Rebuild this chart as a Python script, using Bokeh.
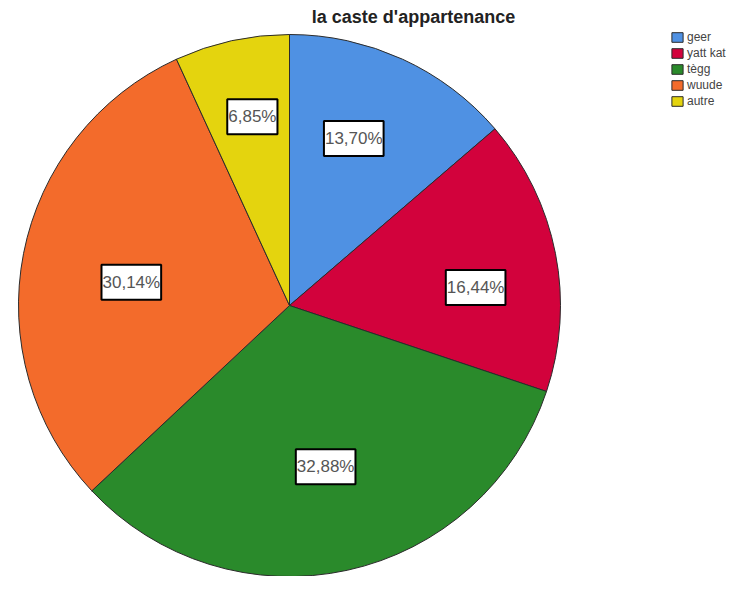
import math
from bokeh.plotting import figure
from bokeh.models import Range1d, ColumnDataSource, Legend, LegendItem
from bokeh.core.properties import value
from bokeh.embed import file_html
from bokeh.resources import INLINE

# ---- data ----
title_text = "la caste d'appartenance"
categories = ["geer", "yatt kat", "tègg", "wuude", "autre"]
percents = [13.70, 16.44, 32.88, 30.14, 6.85]
colors = ["#4f91e3", "#d2023c", "#2a8a2b", "#f36b2b", "#e4d40e"]

# ---- layout / style ----
W, H = 731, 576
CX, CY, R = 289, 271, 271          # pie centre and radius (plot px units)
label_frac = [0.66, 0.69, 0.61, 0.59, 0.71]   # radial placement of value labels
label_turn = [-3.6, 5.6, -0.3, -2.7, 1.2]     # small angular nudges (degrees, clockwise)

total = sum(percents)
starts, ends, lx, ly, labels = [], [], [], [], []
cum = 0.0
for i, v in enumerate(percents):
    a0 = math.pi / 2 - 2 * math.pi * cum / total
    a1 = math.pi / 2 - 2 * math.pi * (cum + v) / total
    starts.append(a0)
    ends.append(a1)
    mid = (a0 + a1) / 2 - math.radians(label_turn[i])
    lx.append(CX + label_frac[i] * R * math.cos(mid))
    ly.append(CY + label_frac[i] * R * math.sin(mid))
    labels.append(f"{v:.2f}".replace(".", ",") + "%")
    cum += v

src = ColumnDataSource(dict(cat=categories, start=starts, end=ends, color=colors,
                            lx=lx, ly=ly, lab=labels,
                            x=[CX] * len(categories), y=[CY] * len(categories)))

p = figure(width=W, height=H, output_backend="svg", toolbar_location=None,
           x_range=Range1d(0, W), y_range=Range1d(0, H), min_border=0)
p.axis.visible = False
p.grid.visible = False
p.outline_line_color = None
p.background_fill_color = "white"
p.border_fill_color = "white"

wedges = p.wedge(x="x", y="y", radius=R, start_angle="start", end_angle="end",
                 direction="clock", fill_color="color", line_color="#2b2b2b",
                 line_width=1, source=src)

p.text(x="lx", y="ly", text="lab", source=src, text_align="center",
       text_baseline="middle", text_font=value("Liberation Sans"),
       text_font_size="17px", text_color="#555555",
       background_fill_color="white", border_line_color="black",
       border_line_width=2, padding=(1, 8))

p.text(x=[413], y=[560], text=[title_text], text_align="center",
       text_baseline="middle", text_font=value("Liberation Sans"),
       text_font_size="18px", text_font_style="bold", text_color="#222222")

items = [LegendItem(label=c, renderers=[wedges], index=i) for i, c in enumerate(categories)]
legend = Legend(items=items, location=(670, 468), orientation="vertical",
                glyph_width=14, glyph_height=12, label_height=12, spacing=2,
                padding=0, margin=0, label_standoff=3,
                label_text_font="Liberation Sans", label_text_font_size="12px",
                label_text_color="#444444", border_line_color=None,
                background_fill_alpha=0)
p.add_layout(legend, "center")

open("out.html", "w").write(file_html(p, INLINE))
